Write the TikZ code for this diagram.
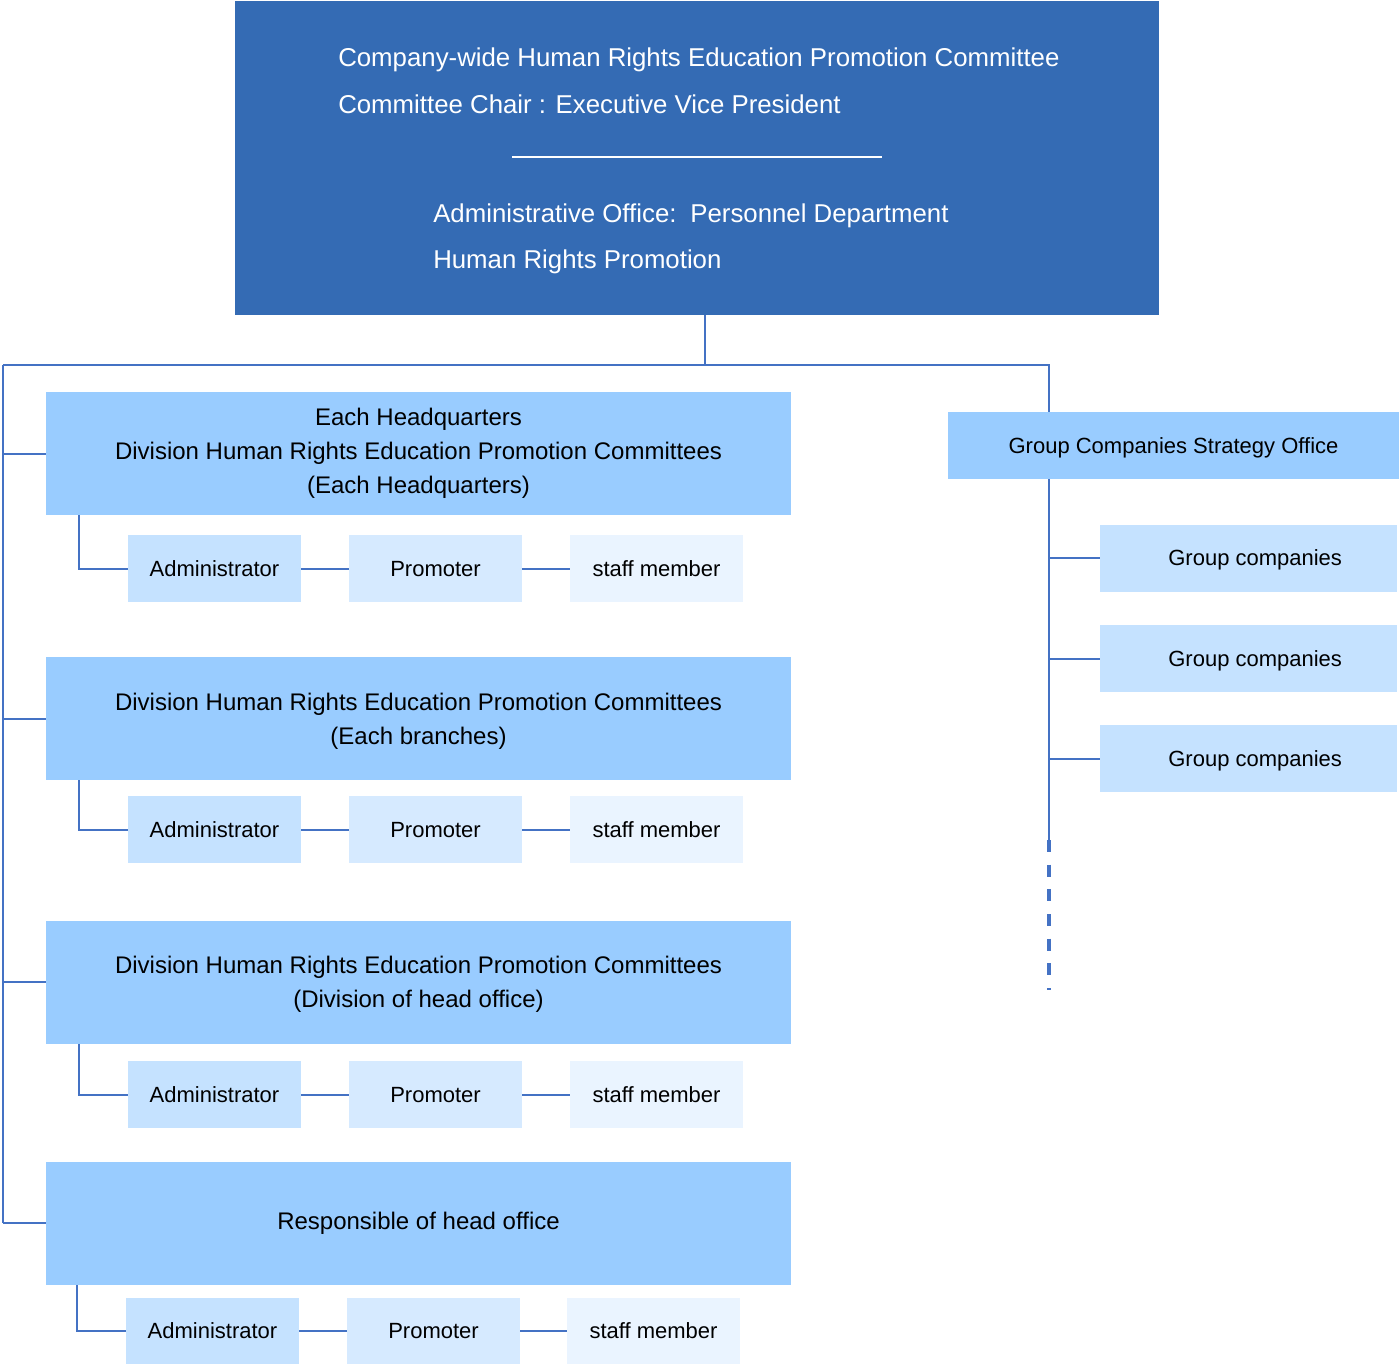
\documentclass[tikz,border=0pt]{standalone}
\usepackage{fontspec}
\setmainfont{Liberation Sans}
\usetikzlibrary{calc}
\definecolor{dark}{RGB}{52,107,180}
\definecolor{mid}{RGB}{153,204,255}
\definecolor{adm}{RGB}{197,226,255}
\definecolor{prm}{RGB}{214,234,255}
\definecolor{stf}{RGB}{234,244,255}
\definecolor{ln}{RGB}{68,114,196}
\begin{document}
\begin{tikzpicture}[x=0.75pt,y=-0.75pt,
  topbox/.style={fill=dark, inner sep=0, minimum width=693pt, minimum height=235.5pt},
  toptext/.style={text=white, inner sep=0, anchor=base west, font=\fontsize{19.35}{24}\selectfont},
  bigbox/.style={fill=mid, inner sep=0, minimum width=558.75pt, minimum height=92.25pt, align=center, font=\fontsize{18}{25.5}\selectfont},
  smallbox/.style={inner sep=0, minimum width=129.75pt, minimum height=50.25pt, text depth=0pt, font=\fontsize{16.5}{20}\selectfont},
  admbox/.style={smallbox, fill=adm},
  prmbox/.style={smallbox, fill=prm},
  stfbox/.style={smallbox, fill=stf},
  gsobox/.style={fill=mid, inner sep=0, minimum width=338.25pt, minimum height=50.25pt, text depth=0pt, font=\fontsize{16.5}{20}\selectfont},
  gcbox/.style={fill=adm, inner sep=0, minimum width=222.75pt, minimum height=50.25pt, text depth=-1.5pt, font=\fontsize{16.5}{20}\selectfont},
  conn/.style={draw=ln, line width=1.5pt},
  dconn/.style={draw=ln, line width=2.4pt, dash pattern=on 9pt off 9.5pt}
]
\useasboundingbox (0,0) rectangle (1400,1364);

% top box
\node[topbox] (top) at (697,158) {};
\node[toptext] (t1) at (338,66) {Company-wide Human Rights Education Promotion Committee};
\node[toptext] (t2) at (338,113) {Committee Chair : Executive Vice President};
\coordinate (rl) at (512,157);
\coordinate (rr) at (882,157);
\draw[white, line width=1.5pt] (rl) -- (rr);
\node[toptext] (t3) at (433,222) {Administrative Office: \,Personnel Department};
\node[toptext] (t4) at (433,268) {Human Rights Promotion};

% big boxes
\node[bigbox] (b1) at (418.5,453.5) {Each Headquarters\\Division Human Rights Education Promotion Committees\\(Each Headquarters)};
\node[bigbox, text depth=0pt] (b2) at (418.5,718.5) {Division Human Rights Education Promotion Committees\\(Each branches)};
\node[bigbox, text depth=0pt] (b3) at (418.5,982) {Division Human Rights Education Promotion Committees\\(Division of head office)};
\node[bigbox] (b4) at (418.5,1223) {Responsible of head office};

% small rows
\node[admbox] (a1) at (214.5,568.5) {Administrator};
\node[prmbox] (p1) at (435.5,568.5) {Promoter};
\node[stfbox] (s1) at (656.5,568.5) {staff member};
\node[admbox] (a2) at (214.5,829.5) {Administrator};
\node[prmbox] (p2) at (435.5,829.5) {Promoter};
\node[stfbox] (s2) at (656.5,829.5) {staff member};
\node[admbox] (a3) at (214.5,1094.5) {Administrator};
\node[prmbox] (p3) at (435.5,1094.5) {Promoter};
\node[stfbox] (s3) at (656.5,1094.5) {staff member};
\node[admbox] (a4) at (212.5,1331) {Administrator};
\node[prmbox] (p4) at (433.5,1331) {Promoter};
\node[stfbox] (s4) at (653.5,1331) {staff member};

% right side
\node[gsobox] (gso) at (1173.5,445.5) {Group Companies Strategy Office};
\node[gcbox] (g1) at (1248.5,558) {\hspace*{10pt}Group companies};
\node[gcbox] (g2) at (1248.5,658.5) {\hspace*{10pt}Group companies};
\node[gcbox] (g3) at (1248.5,758.5) {\hspace*{10pt}Group companies};

% connectors
\coordinate (jL) at (3,365);
\coordinate (jR) at (1049,365);
\coordinate (dA) at (1049,840);
\coordinate (dB) at (1049,990);
\coordinate (drop) at ($(top.south)+(8,0)$);
\draw[conn] (drop) -- (drop |- jL);
\draw[conn] (jL) -- (jR) -- (jR |- gso.north);
\draw[conn] (jL) -- (jL |- b4.west);
\foreach \b in {b1,b2,b3,b4} \draw[conn] (jL |- \b.west) -- (\b.west);

\draw[conn] ($(b1.south west)+(33,0)$) |- (a1.west);
\draw[conn] ($(b2.south west)+(33,0)$) |- (a2.west);
\draw[conn] ($(b3.south west)+(33,0)$) |- (a3.west);
\draw[conn] ($(b4.south west)+(31,0)$) |- (a4.west);
\foreach \i in {1,2,3,4} {
  \draw[conn] (a\i.east) -- (p\i.west);
  \draw[conn] (p\i.east) -- (s\i.west);
}

\draw[conn] (jR |- gso.south) -- (dA);
\draw[dconn] (dA) -- (dB);
\foreach \g in {g1,g2,g3} \draw[conn] (jR |- \g.west) -- (\g.west);
\end{tikzpicture}
\end{document}
